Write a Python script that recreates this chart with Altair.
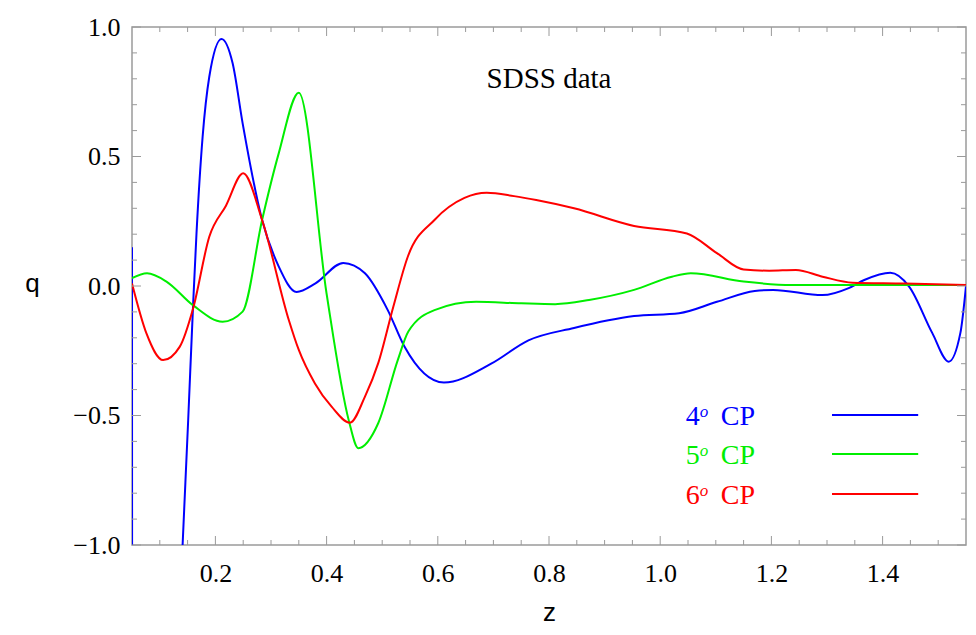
import altair as alt
import pandas as pd

# ---------------- data ----------------
series_names = ["4", "5", "6"]
series_colors = ["#0000ff", "#00ee00", "#ff0000"]

blue_z = [0.05, 0.0502, 0.09, 0.135, 0.141, 0.151, 0.16, 0.166, 0.177, 0.189, 0.211,
          0.231, 0.249, 0.284, 0.314, 0.346, 0.38, 0.43, 0.469, 0.51, 0.54, 0.611,
          0.696, 0.763, 0.845, 0.953, 1.034, 1.102, 1.17, 1.203, 1.292, 1.339, 1.367,
          1.414, 1.448, 1.489, 1.519, 1.54, 1.55]
blue_q = [0.15, -1.3, -4.0, -1.3, -1.0, -0.52, -0.067, 0.203, 0.576, 0.808, 0.954,
          0.86, 0.628, 0.255, 0.075, -0.023, 0.01, 0.089, 0.049, -0.093, -0.234, -0.373,
          -0.30, -0.21, -0.162, -0.116, -0.105, -0.061, -0.019, -0.015, -0.035, -0.008, 0.023,
          0.051, -0.003, -0.18, -0.292, -0.18, 0.0]

green_z = [0.05, 0.077, 0.112, 0.16, 0.213, 0.249, 0.284, 0.314, 0.35, 0.40, 0.44,
           0.457, 0.493, 0.528, 0.547, 0.594, 0.669, 0.75, 0.811, 0.872, 0.953, 1.021,
           1.055, 1.15, 1.237, 1.373, 1.55]
green_q = [0.03, 0.049, 0.017, -0.075, -0.138, -0.099, 0.255, 0.513, 0.746, -0.03, -0.52,
           -0.626, -0.529, -0.286, -0.176, -0.093, -0.061, -0.067, -0.07, -0.054, -0.015, 0.036,
           0.049, 0.017, 0.004, 0.004, 0.004]

red_z = [0.05, 0.076, 0.106, 0.136, 0.16, 0.189, 0.219, 0.25, 0.284, 0.332, 0.35, 0.379,
         0.409, 0.442, 0.469, 0.493, 0.52, 0.546, 0.594, 0.648, 0.688, 0.737, 0.777, 0.845,
         0.953, 1.048, 1.102, 1.15, 1.196, 1.244, 1.292, 1.346, 1.44, 1.55]
red_q = [0.01, -0.183, -0.286, -0.234, -0.086, 0.19, 0.31, 0.435, 0.255, -0.131, -0.247, -0.376,
         -0.466, -0.528, -0.427, -0.297, -0.08, 0.113, 0.255, 0.34, 0.36, 0.347, 0.332, 0.30,
         0.232, 0.203, 0.127, 0.064, 0.059, 0.062, 0.036, 0.013, 0.01, 0.004]

x_major = [0.2, 0.4, 0.6, 0.8, 1.0, 1.2, 1.4]
x_minor = [0.1, 0.15, 0.25, 0.3, 0.35, 0.45, 0.5, 0.55, 0.65, 0.7, 0.75, 0.85, 0.9, 0.95,
           1.05, 1.1, 1.15, 1.25, 1.3, 1.35, 1.45, 1.5]
y_major = [-1.0, -0.5, 0.0, 0.5, 1.0]
y_minor = [-0.9, -0.8, -0.7, -0.6, -0.4, -0.3, -0.2, -0.1, 0.1, 0.2, 0.3, 0.4, 0.6, 0.7, 0.8, 0.9]

title_text = ["SDSS data"]
legend_suffix = "CP"

# ---------------- layout constants ----------------
W, H = 834, 518
TICK = "#9a9a9a"
MAJ, MIN = 9, 5
SERIF = "Liberation Serif"
SANS = "Liberation Sans"
LEG_Q = [-0.498, -0.649, -0.803]
LEG_TEXT_Z = 1.046
LEG_LINE_Z = (1.309, 1.464)
TITLE_POS = (0.80, 0.764)

rows = []
for name, zs, qs in zip(series_names, [blue_z, green_z, red_z], [blue_q, green_q, red_q]):
    for i, (z, q) in enumerate(zip(zs, qs)):
        rows.append({"series": name, "z": z, "q": q, "idx": i})
df = pd.DataFrame(rows)

xscale = alt.Scale(domain=[0.05, 1.55], nice=False, zero=False)
yscale = alt.Scale(domain=[-1, 1], nice=False, zero=False)
color = alt.Color("series:N", scale=alt.Scale(domain=series_names, range=series_colors), legend=None)

x_axis = alt.Axis(values=x_major, format=".1f", ticks=False, domain=False, grid=False,
                  labelFont=SERIF, labelFontSize=26, labelColor="black", labelPadding=15,
                  title="z", titleFont=SANS, titleFontSize=26, titleFontWeight="normal",
                  titleColor="black", titleY=75, titleBaseline="alphabetic")
y_axis = alt.Axis(values=y_major, format=".1f", ticks=False, domain=False, grid=False,
                  labelFont=SERIF, labelFontSize=26, labelColor="black", labelPadding=12,
                  title="q", titleFont=SANS, titleFontSize=26, titleFontWeight="normal",
                  titleColor="black", titleAngle=0, titleX=-100, titleY=256,
                  titleAlign="center", titleBaseline="middle")


def X(field):
    return alt.X(field, scale=xscale, axis=x_axis)


def Y(field):
    return alt.Y(field, scale=yscale, axis=y_axis)


lines = alt.Chart(df).mark_line(clip=True, strokeWidth=2, interpolate="monotone").encode(
    x=X("z:Q"), y=Y("q:Q"), color=color, order="idx:Q")


def xticks(vals, length, top):
    d = pd.DataFrame({"z": vals})
    if top:
        y1, y2 = alt.value(0), alt.value(length)
    else:
        y1, y2 = alt.value(H), alt.value(H - length)
    return alt.Chart(d).mark_rule(color=TICK, strokeWidth=1).encode(x=X("z:Q"), y=y1, y2=y2)


def yticks(vals, length, right):
    d = pd.DataFrame({"q": vals})
    if right:
        x1, x2 = alt.value(W), alt.value(W - length)
    else:
        x1, x2 = alt.value(0), alt.value(length)
    return alt.Chart(d).mark_rule(color=TICK, strokeWidth=1).encode(y=Y("q:Q"), x=x1, x2=x2)


ticks = [
    xticks(x_major, MAJ, False), xticks(x_minor, MIN, False),
    xticks(x_major, MAJ, True), xticks(x_minor, MIN, True),
    yticks(y_major, MAJ, False), yticks(y_minor, MIN, False),
    yticks(y_major, MAJ, True), yticks(y_minor, MIN, True),
]

leg = pd.DataFrame({
    "series": series_names,
    "q": LEG_Q,
    "z": [LEG_TEXT_Z] * 3,
    "z1": [LEG_LINE_Z[0]] * 3,
    "z2": [LEG_LINE_Z[1]] * 3,
    "sup": ["o"] * 3,
    "cp": [legend_suffix] * 3,
})

leg_base = alt.Chart(leg)
leg_lines = leg_base.mark_rule(strokeWidth=2).encode(
    x=X("z1:Q"), x2="z2:Q", y=Y("q:Q"), color=color)
leg_num = leg_base.mark_text(align="left", baseline="alphabetic", font=SERIF, fontSize=28, dy=10).encode(
    x=X("z:Q"), y=Y("q:Q"), text="series:N", color=color)
leg_sup = leg_base.mark_text(align="left", baseline="alphabetic", font=SERIF, fontSize=17,
                             fontStyle="italic", dx=14, dy=2).encode(
    x=X("z:Q"), y=Y("q:Q"), text="sup:N", color=color)
leg_cp = leg_base.mark_text(align="left", baseline="alphabetic", font=SERIF, fontSize=28,
                            dx=35, dy=10).encode(
    x=X("z:Q"), y=Y("q:Q"), text="cp:N", color=color)

tdf = pd.DataFrame({"z": [TITLE_POS[0]], "q": [TITLE_POS[1]], "t": title_text})
title = alt.Chart(tdf).mark_text(align="center", baseline="alphabetic", font=SERIF,
                                 fontSize=29, color="black").encode(
    x=X("z:Q"), y=Y("q:Q"), text="t:N")

chart = alt.layer(lines, *ticks, leg_lines, leg_num, leg_sup, leg_cp, title).properties(
    width=W, height=H,
    padding={"left": 124, "top": 19, "right": 2, "bottom": 82},
    autosize=alt.AutoSizeParams(type="none"),
    background="white",
).configure_view(stroke="#9a9a9a", strokeWidth=1.5)

chart.save("out.html", embed_options={"renderer": "svg", "actions": False})
